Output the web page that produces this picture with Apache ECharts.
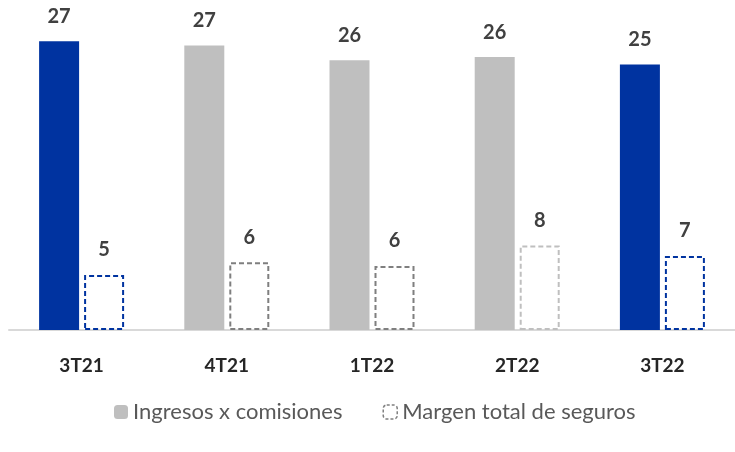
<!DOCTYPE html>
<html lang="es">
<head>
    <meta charset="UTF-8">
    <title>Ingresos x comisiones</title>
    <script src="https://cdn.jsdelivr.net/npm/echarts@6/dist/echarts.min.js"></script>
    <style>
        html, body { margin: 0; padding: 0; background: #fff; }
        #main { width: 735px; height: 452px; }
    </style>
</head>
<body>
<div id="main"></div>
<script>
    // datos
    var trimestres = ['3T21', '4T21', '1T22', '2T22', '3T22'];
    var ingresos = [27.3, 26.9, 25.5, 25.8, 25.1];
    var seguros = [5.2, 6.4, 6.05, 8.0, 7.0];

    // colores por barra
    var colIngresos = ['#0033a0', '#bfbfbf', '#bfbfbf', '#bfbfbf', '#0033a0'];
    var colSeguros = ['#0033a0', '#7f7f7f', '#7f7f7f', '#bfbfbf', '#0033a0'];

    var myChart = echarts.init(document.getElementById('main'));

    var etiqueta = {
        show: true,
        position: 'top',
        distance: 15,
        color: '#404040',
        fontFamily: 'Lato',
        fontWeight: 'bold',
        fontSize: 20,
        formatter: function (p) { return Math.round(p.value); }
    };

    var option = {
        animation: false,
        backgroundColor: '#ffffff',
        grid: { left: 9, width: 730, top: 0, bottom: 122 },
        legend: {
            bottom: 24,
            left: 109,
            itemWidth: 14,
            itemHeight: 14,
            itemGap: 40,
            textStyle: { color: '#595959', fontFamily: 'Lato', fontSize: 22 },
            data: [
                { name: 'Ingresos x comisiones', itemStyle: { color: '#bfbfbf' } },
                { name: 'Margen total de seguros', itemStyle: { color: '#ffffff', borderColor: '#7f7f7f', borderWidth: 1.5, borderType: [3, 2] } }
            ]
        },
        xAxis: {
            type: 'category',
            data: trimestres,
            axisTick: { show: false },
            axisLine: { lineStyle: { color: '#d9d9d9', width: 2 } },
            axisLabel: { color: '#262626', fontFamily: 'Lato', fontWeight: 'bold', fontSize: 19, margin: 26 }
        },
        yAxis: {
            type: 'value',
            min: 0,
            max: 31.2,
            show: false,
            splitLine: { show: false }
        },
        series: [
            {
                name: 'Ingresos x comisiones',
                type: 'bar',
                barWidth: 40,
                barGap: '12.5%',
                label: etiqueta,
                data: ingresos.map(function (v, i) {
                    return { value: v, itemStyle: { color: colIngresos[i] } };
                })
            },
            {
                name: 'Margen total de seguros',
                type: 'bar',
                barWidth: 40,
                label: etiqueta,
                data: seguros.map(function (v, i) {
                    return {
                        value: v,
                        itemStyle: { color: '#ffffff', borderColor: colSeguros[i], borderWidth: 2, borderType: [5, 3] }
                    };
                })
            }
        ]
    };

    myChart.setOption(option);
</script>
</body>
</html>
